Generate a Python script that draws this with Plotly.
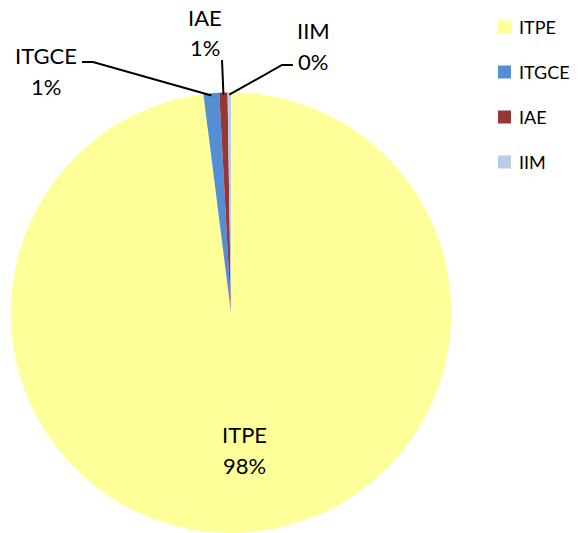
import math
import plotly.graph_objects as go

labels = ["ITPE", "ITGCE", "IAE", "IIM"]
values = [98.0, 1.15, 0.6, 0.25]
colors = ["#FFFF99", "#558ED5", "#953735", "#B9CDE5"]

W, H = 586, 533
OFF = 0  # body margin removed via post_script
FONT = "Lato, Carlito, Calibri, sans-serif"

# pie geometry (screen pixels)
CX, CY, R = 231, 313, 220.5


def px(x):
    return (x - OFF) / W


def py(y):
    return 1 - (y - OFF) / H


fig = go.Figure(go.Pie(
    labels=labels, values=values, sort=False, direction="clockwise", rotation=0,
    marker=dict(colors=colors, line=dict(width=0)),
    textinfo="none", hoverinfo="label+percent", showlegend=False,
    domain=dict(x=[px(CX - R), px(CX + R)], y=[max(0, py(CY + R)), py(CY - R)]),
))

total = sum(values)
pct = [f"{round(v / total * 100)}%" for v in values]

mids = []
acc = 0
for v in values:
    mids.append((acc + v / 2) / total * 2 * math.pi)
    acc += v


def edge(i, rf=1.0):
    a = mids[i]
    return CX + rf * R * math.sin(a), CY - rf * R * math.cos(a)


shapes = []
annotations = []

label_pos = {
    1: dict(text=(46, 55), lines=[(93, 62), (82, 62)]),
    2: dict(text=(205, 17), lines=[(222, 60)]),
    3: dict(text=(313, 31), lines=[(282, 65), (293, 65)]),
}
LINE_GAP = 31
FS = 22


def txt(x, y, s, size=FS, anchor="center"):
    annotations.append(dict(x=px(x), y=py(y), xref="paper", yref="paper",
                            xanchor=anchor, yanchor="middle", text=s, showarrow=False,
                            font=dict(size=size, family=FONT, color="black")))


for i, spec in label_pos.items():
    ex, ey = edge(i, 0.99)
    pts = [(ex, ey)] + spec["lines"]
    path = "M " + " L ".join(f"{px(x)},{py(y)}" for x, y in pts)
    shapes.append(dict(type="path", path=path, xref="paper", yref="paper",
                       line=dict(color="black", width=2)))
    tx, ty = spec["text"]
    txt(tx, ty, labels[i])
    txt(tx, ty + LINE_GAP, pct[i])

lx, ly = edge(0, 0.62)
txt(lx + 5, ly - 15, labels[0])
txt(lx + 5, ly - 15 + LINE_GAP, pct[0])

LEG_X, LEG_Y0, LEG_DY, SQ = 498, 27, 45, 13
for i, (lab, col) in enumerate(zip(labels, colors)):
    yc = LEG_Y0 + i * LEG_DY
    shapes.append(dict(type="rect", xref="paper", yref="paper",
                       x0=px(LEG_X), x1=px(LEG_X + SQ),
                       y0=py(yc + SQ / 2), y1=py(yc - SQ / 2),
                       fillcolor=col, line=dict(width=0)))
    txt(LEG_X + SQ + 6, yc, lab, size=18, anchor="left")

fig.update_layout(
    width=W, height=H, margin=dict(l=0, r=0, t=0, b=0),
    paper_bgcolor="white", plot_bgcolor="white",
    shapes=shapes, annotations=annotations,
)

fig.write_html("out.html", config={"displayModeBar": False},
               post_script="document.body.style.margin='0';document.body.style.overflow='hidden';")
